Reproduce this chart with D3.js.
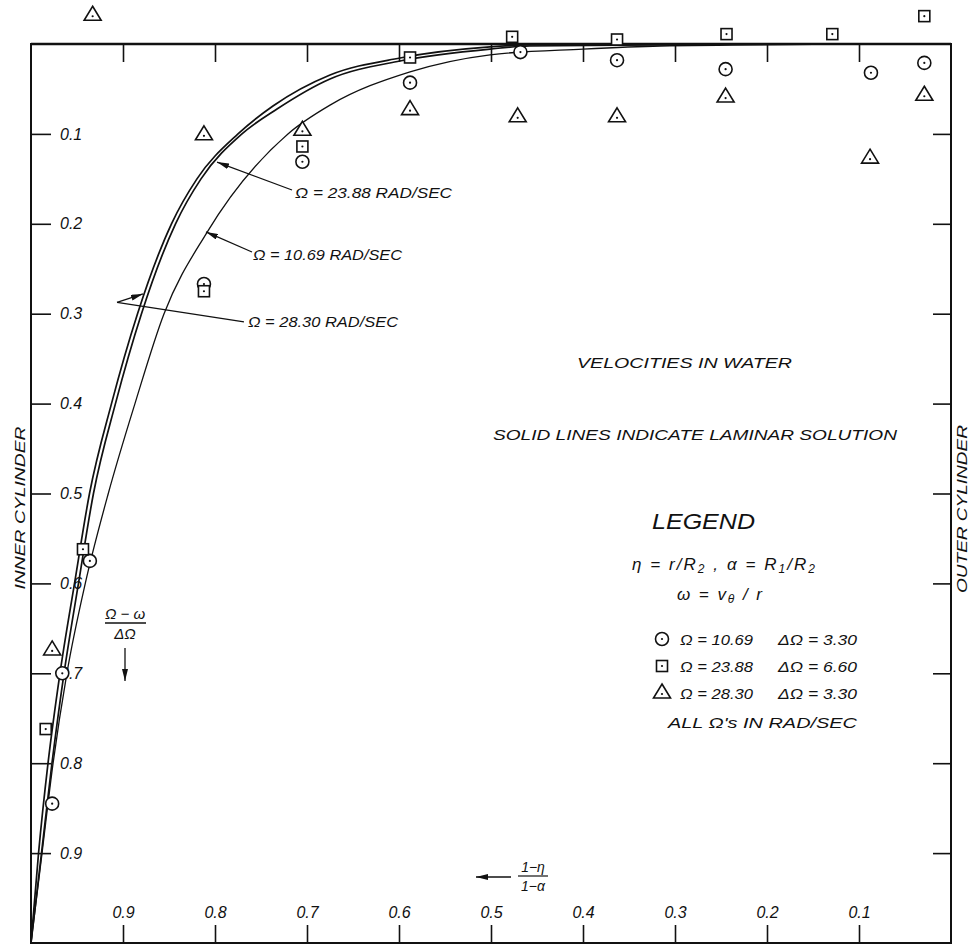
<!DOCTYPE html>
<html>
<head>
<meta charset="utf-8">
<script src="https://cdn.jsdelivr.net/npm/d3@7/dist/d3.min.js"></script>
<style>
  body { margin: 0; background: #fff; }
  svg { display: block; }
  text { font-family: "Liberation Sans", Arial, sans-serif; font-style: italic; fill: #111; }
</style>
</head>
<body>
<svg id="chart" width="971" height="945"></svg>
<script>
// ticks on all four sides
const tickVals = [0.1, 0.2, 0.3, 0.4, 0.5, 0.6, 0.7, 0.8, 0.9];

// laminar solutions, x = (1-eta)/(1-alpha), y = (Omega-w)/dOmega
const lam1069X = [1.0, 0.988, 0.976, 0.961, 0.941, 0.916, 0.887, 0.8554, 0.809, 0.7207, 0.675, 0.588, 0.501, 0.400, 0.316, 0.15, 0];
const lam1069Y = [1.0, 0.9, 0.8, 0.7, 0.6, 0.5, 0.4, 0.3, 0.21, 0.1, 0.068, 0.031, 0.012, 0.0056, 0.0022, 0.0005, 0];
const lam2388X = [1.0, 0.9886, 0.9772, 0.9641, 0.9484, 0.9321, 0.9082, 0.8799, 0.8429, 0.8152, 0.7707, 0.7326, 0.675, 0.599, 0.501, 0.458, 0.25, 0];
const lam2388Y = [1.0, 0.9, 0.8, 0.7, 0.6, 0.5, 0.4, 0.3, 0.2, 0.15, 0.1, 0.0723, 0.0389, 0.0189, 0.0056, 0.0022, 0.0003, 0];
const lam2830X = [1.0, 0.9918, 0.9815, 0.9685, 0.9527, 0.9364, 0.9125, 0.8842, 0.8473, 0.8196, 0.775, 0.737, 0.675, 0.599, 0.501, 0.458, 0.25, 0];
const lam2830Y = [1.0, 0.9, 0.8, 0.7, 0.6, 0.5, 0.4, 0.3, 0.2, 0.15, 0.1, 0.069, 0.0345, 0.0156, 0.0033, 0.0011, 0.0002, 0];

// measured points
const circX = [0.977, 0.966, 0.936, 0.812, 0.705, 0.588, 0.468, 0.363, 0.245, 0.087, 0.029];
const circY = [0.845, 0.700, 0.575, 0.267, 0.131, 0.043, 0.009, 0.018, 0.028, 0.032, 0.021];
const sqX = [0.984, 0.9435, 0.812, 0.705, 0.588, 0.477, 0.363, 0.244, 0.129, 0.029];
const sqY = [0.762, 0.562, 0.275, 0.114, 0.015, -0.008, -0.005, -0.011, -0.011, -0.031];
const triX = [0.977, 0.933, 0.812, 0.705, 0.588, 0.471, 0.363, 0.245, 0.088, 0.029];
const triY = [0.674, -0.032, 0.101, 0.096, 0.073, 0.081, 0.081, 0.059, 0.127, 0.057];

// legend
const legendKinds = ['circle', 'square', 'triangle'];
const legendOmega = ['10.69', '23.88', '28.30'];
const legendDelta = ['3.30', '6.60', '3.30'];

const svg = d3.select('#chart');
const plotL = 31, plotR = 951, plotT = 44, plotB = 943;
const ink = '#111';

const x = d3.scaleLinear().domain([1, 0]).range([plotL, plotR]);
const y = d3.scaleLinear().domain([0, 1]).range([plotT, plotB]);

svg.append('defs').append('marker')
    .attr('id', 'arrow')
    .attr('viewBox', '0 0 10 10')
    .attr('refX', 10).attr('refY', 5)
    .attr('markerWidth', 12).attr('markerHeight', 6)
    .attr('markerUnits', 'userSpaceOnUse')
    .attr('preserveAspectRatio', 'none')
    .attr('orient', 'auto')
  .append('path')
    .attr('d', 'M0,0L10,5L0,10z')
    .attr('fill', ink);

// frame
svg.append('rect')
    .attr('x', plotL).attr('y', plotT)
    .attr('width', plotR - plotL).attr('height', plotB - plotT)
    .attr('fill', 'none').attr('stroke', ink).attr('stroke-width', 2);
svg.append('line')
    .attr('x1', plotL).attr('x2', plotR).attr('y1', plotT).attr('y2', plotT)
    .attr('stroke', ink).attr('stroke-width', 2.6);

function styleAxis(g) {
  g.select('.domain').remove();
  g.selectAll('line').attr('stroke', ink).attr('stroke-width', 1.6);
  g.selectAll('text').attr('font-size', 16).attr('fill', ink)
    .style('font-family', '"Liberation Sans", Arial, sans-serif');
}

// left: labels inside the frame
svg.append('g').attr('transform', `translate(${plotL},0)`)
    .call(d3.axisRight(y).tickValues(tickVals).tickSize(20).tickPadding(9).tickFormat(d3.format('.1f')))
    .call(styleAxis);
// right
svg.append('g').attr('transform', `translate(${plotR},0)`)
    .call(d3.axisLeft(y).tickValues(tickVals).tickSize(18).tickFormat(''))
    .call(styleAxis);
// bottom: labels above the ticks
svg.append('g').attr('transform', `translate(0,${plotB})`)
    .call(d3.axisTop(x).tickValues(tickVals).tickSize(18).tickPadding(7).tickFormat(d3.format('.1f')))
    .call(styleAxis);
// top
svg.append('g').attr('transform', `translate(0,${plotT})`)
    .call(d3.axisBottom(x).tickValues(tickVals).tickSize(18).tickFormat(''))
    .call(styleAxis);

// laminar curves (px grows monotonically along each curve)
const line = d3.line()
    .x(d => x(d[0]))
    .y(d => y(d[1]))
    .curve(d3.curveMonotoneX);

[[lam1069X, lam1069Y, 1.3], [lam2388X, lam2388Y, 1.7], [lam2830X, lam2830Y, 1.7]].forEach(([xs, ys, w]) => {
  svg.append('path')
      .datum(d3.zip(xs, ys))
      .attr('d', line)
      .attr('fill', 'none')
      .attr('stroke', ink)
      .attr('stroke-width', w);
});

function addMarker(g, kind, cx, cy) {
  const m = g.append('g').attr('transform', `translate(${cx},${cy})`);
  let shape;
  if (kind === 'circle') shape = m.append('circle').attr('r', 6.5);
  else if (kind === 'square') shape = m.append('rect').attr('x', -5.5).attr('y', -5.5).attr('width', 11).attr('height', 11);
  else shape = m.append('path').attr('d', 'M0,-9L8.5,5L-8.5,5Z');
  shape.attr('fill', '#fff').attr('stroke', ink).attr('stroke-width', 1.6);
  m.append('circle').attr('r', 1.1).attr('cy', kind === 'triangle' ? 1 : 0).attr('fill', ink);
}

const pts = svg.append('g');
d3.zip(circX, circY).forEach(d => addMarker(pts, 'circle', x(d[0]), y(d[1])));
d3.zip(sqX, sqY).forEach(d => addMarker(pts, 'square', x(d[0]), y(d[1])));
d3.zip(triX, triY).forEach(d => addMarker(pts, 'triangle', x(d[0]), y(d[1])));

// curve call-outs
function leader(x1, y1, x2, y2, head) {
  const l = svg.append('line')
      .attr('x1', x1).attr('y1', y1).attr('x2', x2).attr('y2', y2)
      .attr('stroke', ink).attr('stroke-width', 1.3);
  if (head) l.attr('marker-end', 'url(#arrow)');
}
function label(txt, tx, ty, size, len, anchor) {
  const t = svg.append('text')
      .attr('x', tx).attr('y', ty)
      .attr('font-size', size)
      .attr('text-anchor', anchor || 'start')
      .text(txt);
  if (len) t.attr('textLength', len).attr('lengthAdjust', 'spacingAndGlyphs');
  return t;
}

leader(x(0.7163), y(0.1624), x(0.7978), y(0.1313), true);
label('Ω = 23.88 RAD/SEC', x(0.713), y(0.171), 15, 157);

leader(x(0.7598), y(0.2314), x(0.8098), y(0.209), true);
label('Ω = 10.69 RAD/SEC', x(0.7587), y(0.2403), 15, 149);

leader(x(0.7685), y(0.3092), x(0.9065), y(0.2875), false);
leader(x(0.9065), y(0.2875), x(0.8783), y(0.278), true);
label('Ω = 28.30 RAD/SEC', x(0.7641), y(0.3148), 15, 150);

// axis names
svg.append('text').attr('transform', 'translate(25,508) rotate(-90)')
    .attr('text-anchor', 'middle').attr('font-size', 15.5)
    .attr('textLength', 163).attr('lengthAdjust', 'spacingAndGlyphs')
    .text('INNER CYLINDER');
svg.append('text').attr('transform', 'translate(967,509) rotate(-90)')
    .attr('text-anchor', 'middle').attr('font-size', 15.5)
    .attr('textLength', 168).attr('lengthAdjust', 'spacingAndGlyphs')
    .text('OUTER CYLINDER');

// (Omega - w) / dOmega with arrow down
label('Ω − ω', 125, 619, 15, null, 'middle');
svg.append('line').attr('x1', 105).attr('x2', 146).attr('y1', 623).attr('y2', 623)
    .attr('stroke', ink).attr('stroke-width', 1.3);
label('ΔΩ', 125, 639, 15, null, 'middle');
leader(125, 648, 125, 681, true);

// (1 - eta) / (1 - alpha) with arrow left
leader(511, 877, 476, 877, true);
label('1−η', 533, 872, 14, null, 'middle');
svg.append('line').attr('x1', 518).attr('x2', 548).attr('y1', 876).attr('y2', 876)
    .attr('stroke', ink).attr('stroke-width', 1.2);
label('1−α', 533, 891, 14, null, 'middle');

// notes
label('VELOCITIES  IN  WATER', 577, 368, 15.5, 215);
label('SOLID  LINES  INDICATE  LAMINAR  SOLUTION', 493, 440, 15.5, 404);
label('LEGEND', 652, 529, 22, 103);

const def1 = svg.append('text').attr('x', 632).attr('y', 570).attr('font-size', 17)
    .attr('textLength', 183).attr('lengthAdjust', 'spacing');
def1.append('tspan').text('η = r/R');
def1.append('tspan').attr('font-size', 12).attr('dy', 3).text('2');
def1.append('tspan').attr('dy', -3).text(' ,  α = R');
def1.append('tspan').attr('font-size', 12).attr('dy', 3).text('1');
def1.append('tspan').attr('dy', -3).text('/R');
def1.append('tspan').attr('font-size', 12).attr('dy', 3).text('2');

const def2 = svg.append('text').attr('x', 677).attr('y', 600).attr('font-size', 17)
    .attr('textLength', 85).attr('lengthAdjust', 'spacing');
def2.append('tspan').text('ω = v');
def2.append('tspan').attr('font-size', 12).attr('dy', 3).text('θ');
def2.append('tspan').attr('dy', -3).text(' / r');

const leg = svg.append('g');
legendKinds.forEach((k, i) => {
  const yy = 639 + i * 27;
  addMarker(leg, k, 662, yy);
  label(`Ω = ${legendOmega[i]}`, 680, yy + 5.5, 15.5, 73);
  label(`ΔΩ = ${legendDelta[i]}`, 778, yy + 5.5, 15.5, 79);
});
label('ALL Ω\'s  IN  RAD/SEC', 668, 728, 15, 189);
</script>
</body>
</html>
